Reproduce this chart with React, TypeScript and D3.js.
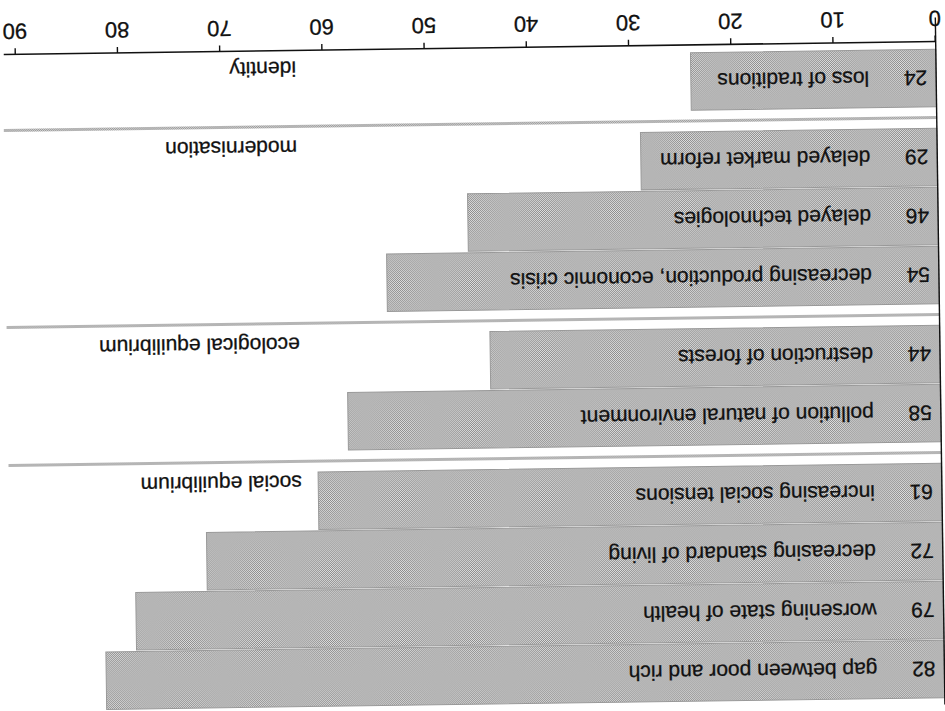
import React, { useEffect, useRef } from 'react'
import * as d3 from 'd3'

// data
const groups = ['social equilibrium', 'ecological equilibrium', 'modernisation', 'identity']
const categories = [
  'gap between poor and rich',
  'worsening state of health',
  'decreasing standard of living',
  'increasing social tensions',
  'pollution of natural environment',
  'destruction of forests',
  'decreasing production, economic crisis',
  'delayed technologies',
  'delayed market reform',
  'loss of traditions',
]
const values = [82, 79, 72, 61, 58, 44, 54, 46, 29, 24]
const groupOf = [0, 0, 0, 0, 1, 1, 2, 2, 2, 3]
const tickValues = [0, 10, 20, 30, 40, 50, 60, 70, 80, 90]

const W = 945
const H = 711
const FONT = '"Liberation Sans", Arial, Helvetica, sans-serif'

export default function App() {
  const axisRef = useRef<SVGGElement>(null)

  // layout (drawn upright, then turned like the scanned page)
  const x = d3.scaleLinear().domain([0, 90]).range([5, 925])
  const gapRatio = 20 / 59
  const y = d3.scaleLinear().domain([0, values.length + 3 * gapRatio]).range([6, 656])
  const rowTop = (i: number) => y(i + groupOf[i] * gapRatio)
  const rowH = y(1) - y(0)
  const axisY = 663

  const lastOfGroup = groups.map((_, g) => d3.max(d3.range(values.length).filter(i => groupOf[i] === g)) as number)
  const sepY = groups.slice(1).map((_, g) => {
    const i = lastOfGroup[g]
    return (rowTop(i) + rowH + rowTop(i + 1)) / 2
  })

  useEffect(() => {
    if (!axisRef.current) return
    const g = d3.select(axisRef.current)
    g.selectAll('*').remove()
    g.call(d3.axisBottom(x).tickValues(tickValues).tickSize(6).tickSizeOuter(0).tickPadding(9))
    g.select('.domain').remove()
    g.selectAll('.tick line').attr('stroke', '#111').attr('stroke-width', 1.4)
    g.selectAll('.tick text')
      .attr('fill', '#111')
      .attr('stroke', '#111')
      .attr('stroke-width', 0.3)
      .style('font-family', FONT)
      .style('font-size', '22px')
  }, [])

  return (
    <svg width={W} height={H} style={{ position: 'absolute', left: 0, top: 0, background: '#fff' }}>
      <defs>
        <pattern id="ht" width="2" height="2" patternUnits="userSpaceOnUse">
          <rect width="2" height="2" fill="#e0e0e0" />
          <rect width="1" height="1" fill="#8a8a8a" />
          <rect x="1" y="1" width="1" height="1" fill="#8a8a8a" />
        </pattern>
      </defs>
      <g transform={`rotate(179.2, ${W / 2}, ${H / 2})`}>
        {/* group separators */}
        {sepY.map((s, k) => (
          <rect key={'s' + k} x={x(0)} y={s - 1.5} width={938 - x(0)} height={3} fill="url(#ht)" />
        ))}
        {/* bars */}
        {values.map((v, i) => (
          <rect
            key={'b' + i}
            x={x(0)}
            y={rowTop(i) + 0.75}
            width={x(v) - x(0)}
            height={rowH - 1.5}
            fill="url(#ht)"
            stroke="#999"
            strokeWidth={1}
          />
        ))}
        {/* bar values and labels */}
        {values.map((v, i) => (
          <g key={'t' + i} fontFamily={FONT} fontSize={21} fill="#111" stroke="#111" strokeWidth={0.3}>
            <text x={14} y={rowTop(i) + rowH / 2} dy="0.36em">{v}</text>
            <text x={72} y={rowTop(i) + rowH / 2} dy="0.36em">{categories[i]}</text>
          </g>
        ))}
        {/* group labels */}
        {groups.map((g, k) => (
          <text
            key={'g' + k}
            x={645}
            y={rowTop(lastOfGroup[k]) + rowH - 4}
            fontFamily={FONT}
            fontSize={21}
            fill="#111"
            stroke="#111"
            strokeWidth={0.3}
          >
            {g}
          </text>
        ))}
        {/* axes */}
        <line x1={x(0)} x2={x(0)} y1={0} y2={axisY + 24} stroke="#111" strokeWidth={1.4} />
        <line x1={x(0)} x2={937} y1={axisY} y2={axisY} stroke="#111" strokeWidth={1.6} />
        <g ref={axisRef} transform={`translate(0, ${axisY})`} />
      </g>
    </svg>
  )
}
